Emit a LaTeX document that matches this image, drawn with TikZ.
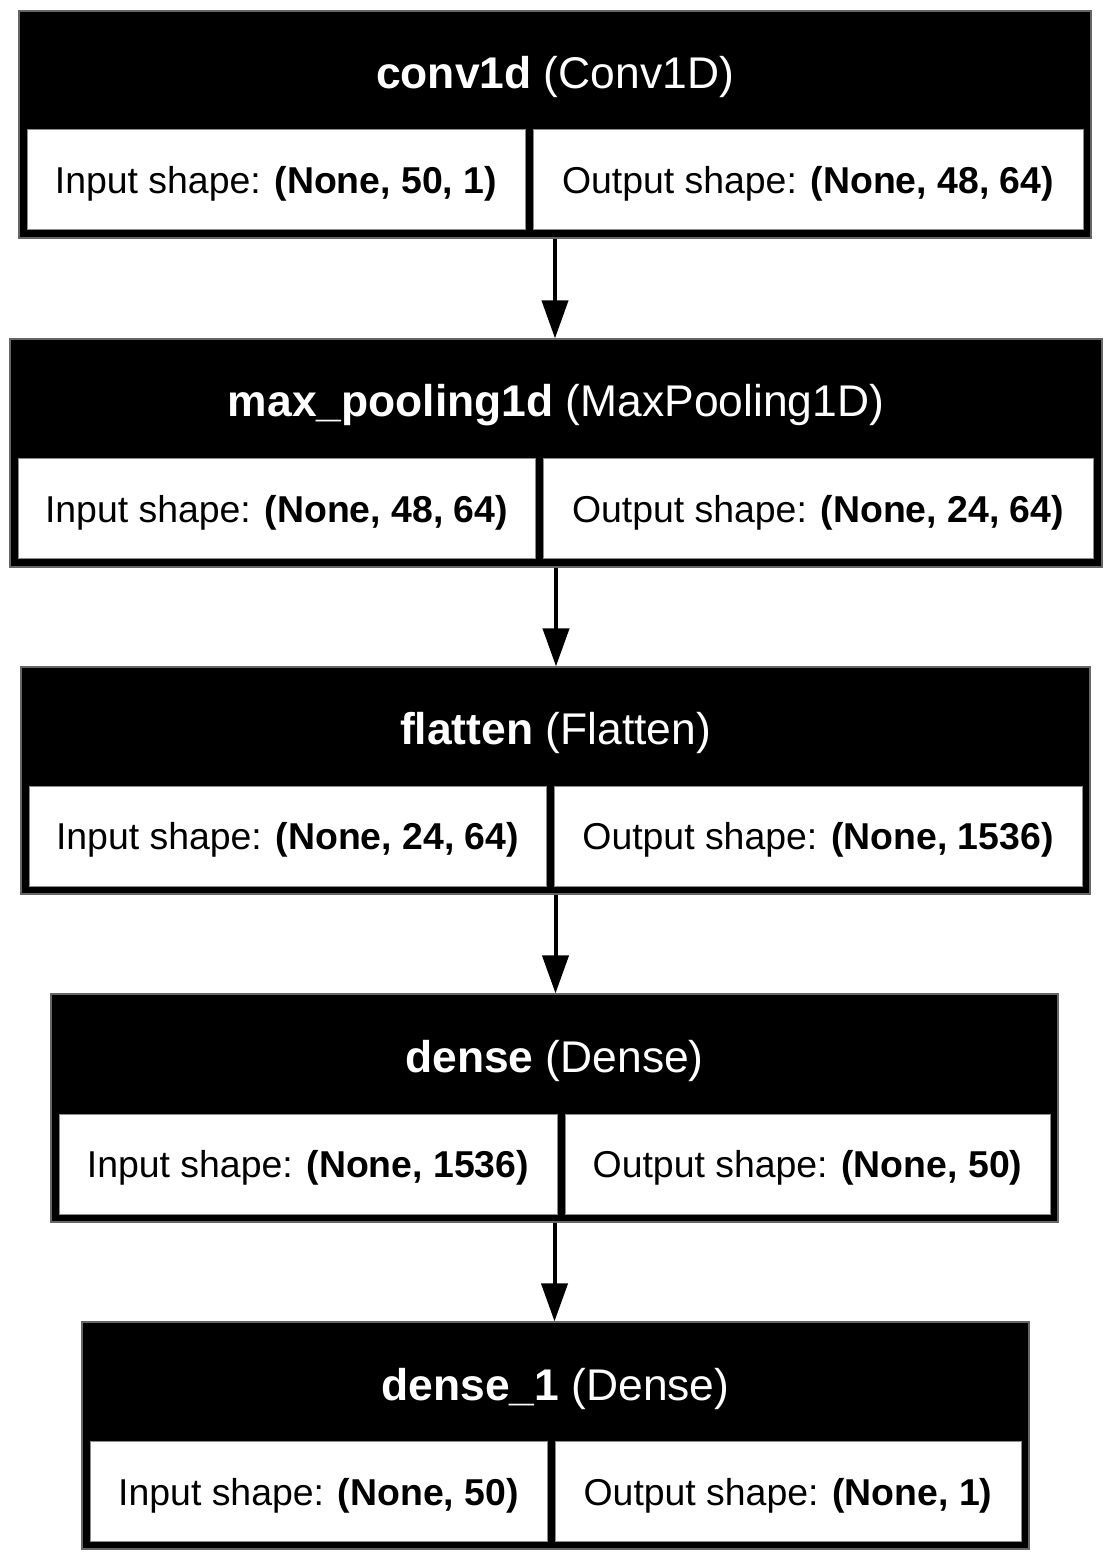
\documentclass[tikz,border=0pt]{standalone}
\usepackage{fontspec}
\setmainfont{Liberation Sans}
\usetikzlibrary{arrows.meta}

\begin{document}
\begin{tikzpicture}[x=1pt,y=-1pt]
\tikzset{layer/.style={shape=rectangle, fill=black, draw=black!60, line width=0.6pt, inner sep=0pt, minimum height=113.5pt}}
\tikzset{title/.style={text=white, inner sep=0pt, yshift=-3.5pt, font=\fontsize{22.2}{26}\selectfont}}
\tikzset{cell/.style={shape=rectangle, fill=white, draw=black!45, line width=0.5pt, inner sep=0pt, minimum height=50pt, text depth=-0.5pt, font=\fontsize{18.7}{22}\selectfont}}
\tikzset{flow/.style={-{Triangle[length=19pt,width=13pt]}, line width=2pt}}
\useasboundingbox (0,0) rectangle (555.5,780.5);
%conv1d
\node[layer, minimum width=536pt] (conv1d) at (277.5,62.25) {};
\node[title] (conv1d-t) at (277.5,35.25) {\textbf{conv1d} (Conv1D)};
\node[cell, minimum width=249pt] (conv1d-in) at (138,90) {Input shape: \textbf{(None, 50, 1)}};
\node[cell, minimum width=275pt] (conv1d-out) at (404,90) {Output shape: \textbf{(None, 48, 64)}};
%max_pooling1d
\node[layer, minimum width=546pt, minimum height=114pt] (pool) at (278,226.5) {};
\node[title] (pool-t) at (278,199.25) {\textbf{max\_pooling1d} (MaxPooling1D)};
\node[cell, minimum width=258.5pt] (pool-in) at (138.25,254.25) {Input shape: \textbf{(None, 48, 64)}};
\node[cell, minimum width=275pt] (pool-out) at (409,254.25) {Output shape: \textbf{(None, 24, 64)}};
%flatten
\node[layer, minimum width=534.5pt] (flatten) at (277.75,390.25) {};
\node[title] (flatten-t) at (277.75,363.25) {\textbf{flatten} (Flatten)};
\node[cell, minimum width=258.5pt] (flatten-in) at (143.75,418) {Input shape: \textbf{(None, 24, 64)}};
\node[cell, minimum width=264pt] (flatten-out) at (409,418) {Output shape: \textbf{(None, 1536)}};
%dense
\node[layer, minimum width=503.5pt, minimum height=114pt] (dense) at (277.25,554) {};
\node[title] (dense-t) at (277.25,527) {\textbf{dense} (Dense)};
\node[cell, minimum width=249pt] (dense-in) at (154,582) {Input shape: \textbf{(None, 1536)}};
\node[cell, minimum width=242.5pt] (dense-out) at (403.75,582) {Output shape: \textbf{(None, 50)}};
%dense_1
\node[layer, minimum width=473.5pt] (dense1) at (277.75,717.75) {};
\node[title] (dense1-t) at (277.75,691) {\textbf{dense\_1} (Dense)};
\node[cell, minimum width=228.5pt] (dense1-in) at (159.25,745.75) {Input shape: \textbf{(None, 50)}};
\node[cell, minimum width=233pt] (dense1-out) at (394,745.75) {Output shape: \textbf{(None, 1)}};
%edges
\draw[flow] (conv1d.south) -- (conv1d.south |- pool.north);
\draw[flow] (pool.south) -- (pool.south |- flatten.north);
\draw[flow] (flatten.south) -- (flatten.south |- dense.north);
\draw[flow] (dense.south) -- (dense.south |- dense1.north);
\end{tikzpicture}
\end{document}
